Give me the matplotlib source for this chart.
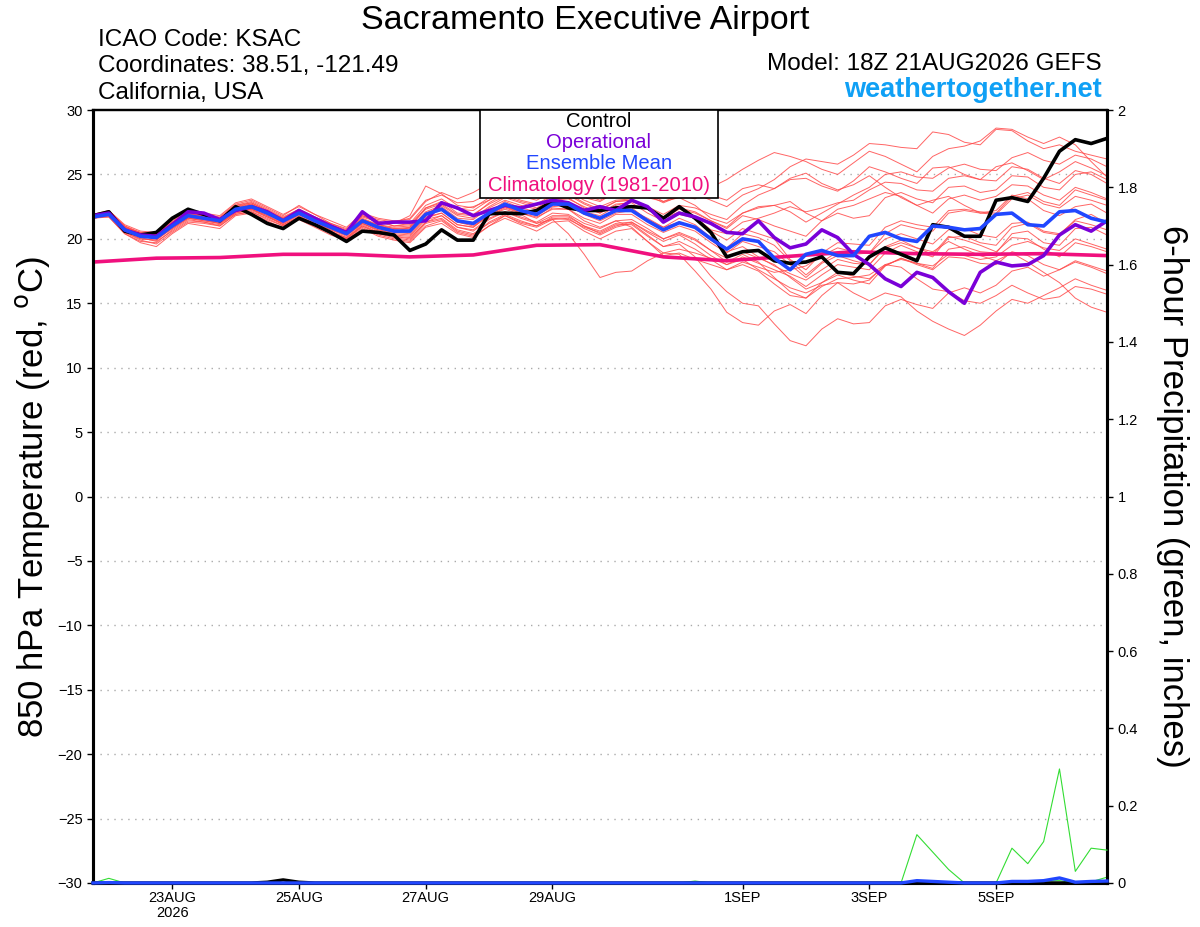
import matplotlib
matplotlib.use("Agg")
import matplotlib.pyplot as plt
from matplotlib.patches import Rectangle
import numpy as np

plt.rcParams['font.family'] = ['Liberation Sans', 'DejaVu Sans']

# ---------------- data ----------------
hours = list(range(0, 385, 6))   # 18Z 21AUG2026 + hours

tick_hours = [30, 78, 126, 174, 246, 294, 342]
tick_labels = ['23AUG\n2026', '25AUG', '27AUG', '29AUG', '1SEP', '3SEP', '5SEP']

control = [21.8, 22.1, 20.6, 20.3, 20.5, 21.6, 22.3, 21.9, 21.4, 22.5, 21.9, 21.2, 20.8,
           21.6, 21.1, 20.5, 19.8, 20.6, 20.5, 20.3, 19.1, 19.6, 20.7, 19.9, 19.9,
           21.95, 22.0, 21.95, 22.2, 22.9, 22.4, 22.2, 22.2, 22.4, 22.5, 22.4, 21.6, 22.5,
           21.6, 20.5, 18.6, 19.0, 19.1, 18.3, 18.1, 18.2, 18.6, 17.4, 17.3, 18.6, 19.3,
           18.8, 18.3, 21.1, 20.9, 20.2, 20.2, 23.0, 23.2, 22.9, 24.7, 26.8, 27.7, 27.4, 27.8]

operational = [21.8, 22.0, 20.7, 20.3, 20.2, 21.1, 22.1, 22.0, 21.5, 22.2, 22.5, 22.1, 21.4,
               22.2, 21.6, 21.0, 20.5, 22.1, 21.2, 21.3, 21.3, 21.4, 22.8, 22.4, 21.8,
               22.2, 22.6, 22.4, 22.7, 23.0, 22.8, 22.2, 22.5, 22.2, 23.0, 22.5, 21.3, 22.0,
               21.7, 21.2, 20.5, 20.4, 21.4, 20.1, 19.3, 19.6, 20.7, 20.1, 18.8, 18.0, 16.9,
               16.3, 17.4, 17.0, 15.9, 15.0, 17.4, 18.2, 17.9, 18.0, 18.7, 20.3, 21.1, 20.6, 21.4]

ens_mean = [21.7, 21.9, 20.7, 20.2, 20.1, 21.0, 21.8, 21.6, 21.4, 22.3, 22.5, 22.0, 21.4,
            22.0, 21.4, 20.9, 20.4, 21.4, 20.9, 20.6, 20.6, 21.9, 22.3, 21.4, 21.2,
            22.0, 22.7, 22.2, 21.9, 22.7, 22.7, 22.0, 21.6, 22.2, 22.2, 21.4, 20.7, 21.25,
            20.9, 20.0, 19.2, 20.0, 19.8, 18.5, 17.6, 18.8, 19.1, 18.7, 18.7, 20.2, 20.5,
            20.0, 19.8, 21.0, 20.9, 20.7, 20.8, 21.9, 22.0, 21.1, 21.0, 22.1, 22.2, 21.6, 21.3]

clim_hours = [0, 24, 48, 72, 96, 120, 144, 168, 192, 216, 240, 264, 288, 312, 336, 360, 384]
climatology = [18.2, 18.5, 18.55, 18.8, 18.8, 18.6, 18.75, 19.5, 19.55, 18.6, 18.3,
               18.65, 19.0, 18.85, 18.8, 18.85, 18.7]

m01 = [21.8,22.2,21.0,20.4,20.3,21.3,22.2,21.9,21.7,22.7,23.0,22.4,21.8,22.6,21.9,21.2,20.7,21.9,21.5,21.3,21.6,23.0,23.4,22.8,22.9,
       23.5,24.2,23.8,23.6,24.0,24.3,23.9,23.5,23.9,24.1,23.6,23.2,23.8,23.5,23.0,22.5,
       23.4,23.9,24.6,25.6,26.2,26.0,25.8,26.5,27.4,27.3,27.1,27.0,28.3,28.1,27.5,27.3,28.5,28.4,27.6,27.0,27.3,26.8,26.5,26.2]
m02 = [21.6,21.8,20.5,20.0,19.9,20.9,21.6,21.5,21.2,22.0,22.3,21.8,21.2,21.9,21.3,20.7,20.3,21.2,20.7,20.5,20.9,22.4,22.8,22.3,22.5,
       23.0,23.6,23.2,23.4,24.0,23.8,23.2,22.9,23.6,23.9,23.2,22.9,23.4,23.1,24.0,24.6,
       25.4,26.1,26.7,26.4,26.0,25.4,25.0,25.9,26.8,26.4,25.8,25.2,26.4,27.0,27.2,27.6,28.6,28.5,27.9,27.4,27.9,27.3,26.0,24.8]
m03 = [21.7,21.7,20.4,19.7,19.4,20.4,21.2,21.0,20.8,21.8,22.0,21.4,20.8,21.5,20.9,20.3,19.9,20.8,20.2,19.9,19.7,20.9,21.2,20.4,20.1,
       21.0,21.8,21.2,20.9,21.5,21.6,20.8,20.3,20.9,21.2,20.3,19.4,19.6,18.6,17.1,15.9,
       15.0,14.8,13.4,12.1,11.7,13.0,13.8,13.4,13.5,14.8,15.3,14.9,14.6,15.8,16.2,15.8,16.4,17.5,17.8,17.1,17.6,18.2,17.8,17.3]
m04 = [21.7,21.9,20.8,20.3,20.0,20.8,21.6,21.4,21.2,22.1,22.3,21.8,21.1,21.7,21.1,20.6,20.0,21.0,20.5,20.2,20.0,21.3,21.8,20.9,20.7,
       21.6,22.1,21.7,21.3,22.0,21.9,21.2,20.8,21.4,21.5,20.8,20.0,20.4,19.9,19.1,18.2,
       18.8,18.2,17.0,15.9,15.4,16.6,17.2,16.8,16.5,17.9,18.5,18.1,17.7,19.2,19.4,19.0,18.9,20.4,20.6,19.7,19.5,20.8,20.9,20.3]
m05 = [21.9,22.1,20.9,20.5,20.4,21.3,22.0,21.8,21.6,22.6,22.9,22.3,21.7,22.3,21.7,21.2,20.8,21.8,21.4,21.0,21.1,22.4,22.9,22.0,21.9,
       22.7,23.3,22.9,22.6,23.3,23.4,22.7,22.2,22.9,23.0,22.3,21.7,22.4,22.1,21.4,20.8,
       21.8,21.5,21.0,20.6,20.2,21.4,22.0,21.6,21.8,23.2,23.6,23.1,22.8,24.0,24.1,23.6,23.8,24.9,24.8,24.0,23.8,25.0,25.2,24.6]
m06 = [21.6,21.8,20.6,20.1,19.8,20.6,21.4,21.3,21.0,21.9,22.1,21.6,21.0,21.6,21.0,20.5,20.1,21.0,20.4,20.1,19.9,21.2,21.5,20.6,20.3,
       21.3,21.9,21.4,21.0,21.7,21.7,21.0,20.4,21.0,21.3,20.5,19.8,20.3,19.6,18.7,18.0,
       18.4,17.6,16.9,16.2,15.8,16.4,16.6,15.8,15.2,15.8,15.5,14.4,13.6,13.0,12.5,13.3,14.4,15.3,15.0,15.6,16.2,16.9,16.4,16.0]
m07 = [21.8,22.0,20.9,20.4,20.3,21.1,21.9,21.7,21.5,22.4,22.6,22.1,21.5,22.1,21.5,21.0,20.5,21.5,21.0,20.8,20.9,22.0,22.4,21.3,21.0,
       21.8,22.3,21.9,21.2,21.5,20.4,18.8,17.0,17.4,17.5,18.3,18.9,19.2,18.9,18.5,18.0,
       18.6,18.1,17.6,17.1,16.3,17.2,18.0,17.8,17.6,18.9,19.5,19.0,18.6,20.1,20.2,19.7,19.5,20.9,21.2,20.5,20.3,21.5,21.9,21.2]
m08 = [21.8,22.0,20.8,20.3,20.1,21.1,21.9,21.8,21.6,22.5,22.8,22.2,21.6,22.2,21.6,21.1,20.6,21.8,21.3,21.2,21.8,24.1,23.5,22.6,22.4,
       23.2,24.0,23.6,23.2,23.8,24.0,23.4,23.0,23.6,23.8,23.4,22.8,23.3,23.6,23.4,23.0,
       23.9,24.2,23.9,24.6,24.7,24.1,23.7,24.5,25.6,25.2,24.7,24.3,25.5,25.6,25.0,24.6,25.6,25.9,25.3,24.6,25.2,26.0,25.5,24.9]
m09 = [21.7,21.9,20.6,20.1,20.1,21.0,21.7,21.5,21.3,22.2,22.4,21.9,21.3,21.9,21.3,20.8,20.3,21.2,20.7,20.4,20.3,21.6,22.0,21.1,20.9,
       21.8,22.4,22.0,21.6,22.4,22.3,21.6,21.2,21.9,21.9,21.1,20.5,21.0,20.6,19.7,18.9,
       19.8,19.4,19.0,18.0,17.0,18.1,18.7,18.3,18.0,19.4,19.9,19.3,18.8,20.2,19.9,19.5,19.0,20.1,20.0,19.2,18.6,19.7,19.4,19.0]
m10 = [21.6,21.8,20.7,20.2,20.0,20.9,21.7,21.5,21.3,22.2,22.4,21.9,21.3,21.9,21.3,20.8,20.3,21.3,20.8,20.5,20.4,21.7,22.0,21.1,20.9,
       21.9,22.5,22.1,21.8,22.5,22.6,21.9,21.4,22.0,22.2,21.6,20.9,21.3,20.8,19.9,19.0,
       19.4,18.6,17.9,17.3,16.8,17.6,18.4,18.1,18.0,19.3,19.7,19.3,19.0,19.8,19.2,18.7,18.3,18.9,18.2,17.4,16.6,15.4,14.7,14.3]
m11 = [21.8,22.1,20.9,20.4,20.2,21.2,22.0,21.7,21.5,22.5,22.7,22.1,21.6,22.2,21.5,21.0,20.5,21.5,21.1,20.8,20.8,22.1,22.6,21.8,21.6,
       22.5,23.2,22.8,22.4,23.1,23.2,22.4,22.0,22.7,22.8,22.0,21.4,21.9,21.6,20.6,19.9,
       20.8,20.4,20.0,18.4,17.6,18.9,19.7,19.6,19.5,20.9,21.4,21.1,20.9,22.2,22.3,22.1,22.0,23.3,23.6,22.9,22.6,23.8,23.4,23.0]
m12 = [21.7,22.0,20.8,20.3,20.2,21.1,21.8,21.6,21.4,22.3,22.5,22.1,21.5,22.1,21.5,21.0,20.5,21.5,21.0,20.7,20.7,22.0,22.5,21.6,21.5,
       22.4,23.0,22.6,22.3,23.0,23.1,22.5,22.0,22.6,22.9,22.5,21.9,22.6,22.4,21.9,21.5,
       22.6,23.4,23.9,24.7,25.1,24.3,23.8,24.2,24.9,24.0,23.2,22.6,23.0,23.3,22.6,22.0,22.2,23.4,23.1,22.2,21.8,22.5,22.7,22.0]
m13 = [21.7,21.8,20.5,19.9,19.6,20.5,21.3,21.2,21.0,21.9,22.1,21.5,21.0,21.6,21.0,20.5,20.0,20.9,20.3,20.0,19.8,21.0,21.4,20.5,20.2,
       21.0,21.6,21.1,20.6,21.3,21.4,20.6,20.0,20.6,20.8,19.8,18.9,18.8,17.5,16.1,14.3,
       13.5,13.3,14.4,14.9,14.2,15.6,16.6,16.5,16.8,18.0,18.4,18.1,17.9,18.8,18.7,18.4,18.6,19.5,19.8,19.3,19.1,20.0,19.6,19.2]
m14 = [21.9,22.1,21.0,20.5,20.3,21.2,22.0,21.8,21.6,22.6,22.8,22.2,21.6,22.3,21.7,21.1,20.6,21.7,21.3,21.0,21.2,22.6,23.1,22.3,22.2,
       23.0,23.7,23.3,23.0,23.6,23.7,23.0,22.5,23.0,23.1,22.4,21.6,22.1,21.7,20.7,20.4,
       21.3,21.6,22.0,22.5,22.1,22.4,22.8,23.0,23.8,24.4,24.3,23.8,23.7,24.7,24.9,24.6,24.5,25.6,25.4,24.7,24.3,25.3,25.0,24.3]
m15 = [21.6,21.7,20.4,19.8,19.7,20.7,21.5,21.3,21.1,22.0,22.2,21.7,21.1,21.7,21.1,20.6,20.1,21.1,20.5,20.2,20.1,21.3,21.6,20.7,20.4,
       21.2,21.8,21.3,21.0,21.6,21.5,20.9,20.5,21.1,21.1,20.2,19.4,19.8,19.2,18.4,17.6,
       18.0,17.5,16.5,15.6,15.4,16.3,16.9,17.0,17.2,18.0,17.8,16.9,16.1,15.9,15.2,15.0,15.6,16.4,15.8,15.3,15.5,16.3,16.1,15.7]
m16 = [21.8,22.0,20.7,20.2,20.1,21.0,21.8,21.6,21.4,22.3,22.6,22.0,21.4,22.0,21.4,20.9,20.4,21.4,20.9,20.6,20.6,21.9,22.3,21.4,21.2,
       22.1,22.9,22.4,22.1,22.9,22.9,22.1,21.8,22.5,22.4,21.5,20.9,21.6,21.1,20.1,19.3,
       20.4,20.1,19.5,18.3,17.2,18.2,19.0,18.8,18.9,20.4,21.1,20.8,20.6,22.0,22.2,22.0,21.9,23.1,23.4,22.7,22.4,23.3,23.0,22.6]
m17 = [21.9,22.2,21.1,20.6,20.5,21.4,22.2,22.0,21.8,22.8,23.1,22.5,21.9,22.5,21.9,21.4,20.9,22.0,21.6,21.4,21.5,22.9,23.6,23.1,23.6,
       24.3,24.9,24.5,24.1,24.6,24.8,24.2,23.8,24.2,24.4,23.6,22.9,23.2,22.6,21.6,21.2,
       22.0,22.4,22.6,22.9,22.0,21.4,22.3,22.6,23.1,23.6,23.3,22.6,22.0,23.1,23.4,23.0,23.3,24.2,24.1,23.4,23.0,24.0,23.6,23.1]
m18 = [21.7,21.8,20.6,20.0,19.9,20.8,21.6,21.4,21.2,22.1,22.3,21.7,21.2,21.8,21.2,20.7,20.2,21.2,20.6,20.3,20.2,21.5,21.8,20.9,20.6,
       21.5,22.1,21.6,21.2,21.8,21.8,21.0,20.6,21.2,21.3,20.6,20.0,20.5,20.0,19.1,18.5,
       19.0,18.5,18.0,17.0,16.1,16.6,17.4,17.1,16.9,17.9,18.5,18.0,17.6,18.6,18.5,18.1,18.0,19.0,18.7,18.0,17.6,18.3,17.9,17.5]
m19 = [21.8,21.9,20.7,20.2,20.2,21.1,21.9,21.6,21.5,22.4,22.6,22.1,21.5,22.1,21.5,21.0,20.5,21.5,21.0,20.7,20.6,21.9,22.2,21.3,21.1,
       21.9,22.5,22.0,21.7,22.3,22.3,21.4,20.9,21.4,20.9,19.8,18.7,18.9,18.4,18.0,17.6,
       18.2,17.8,17.4,17.6,17.9,18.7,19.3,19.0,18.9,20.0,20.4,20.0,19.6,20.7,20.8,20.3,20.1,21.2,21.3,20.6,20.4,21.4,21.1,20.7]
m20 = [21.7,21.9,20.8,20.3,20.2,21.1,21.9,21.7,21.5,22.4,22.7,22.1,21.5,22.2,21.6,21.1,20.6,21.6,21.1,20.9,21.0,22.3,22.7,21.9,21.8,
       22.8,23.5,23.0,22.7,23.4,23.5,22.8,22.3,22.9,23.0,22.3,21.6,22.3,22.0,21.4,20.9,
       22.0,22.5,22.6,22.1,21.3,22.0,22.7,23.4,24.0,25.0,25.2,24.8,24.7,25.5,25.8,25.4,25.3,26.3,26.7,26.1,25.8,26.5,26.2,25.6]
members = [m01, m02, m03, m04, m05, m06, m07, m08, m09, m10,
           m11, m12, m13, m14, m15, m16, m17, m18, m19, m20]

# 6-hour precipitation (inches)
precip_member_a = [0, 0.012, 0, 0, 0, 0, 0, 0, 0, 0, 0, 0, 0, 0, 0, 0, 0, 0, 0, 0, 0, 0, 0, 0, 0,
                   0, 0, 0, 0, 0, 0, 0, 0, 0, 0, 0, 0, 0, 0.005, 0, 0, 0, 0, 0, 0, 0, 0, 0, 0, 0, 0,
                   0, 0.125, 0.08, 0.035, 0, 0, 0, 0.09, 0.05, 0.107, 0.295, 0.03, 0.09, 0.085]
precip_member_b = [0, 0, 0, 0, 0, 0, 0, 0, 0, 0, 0, 0, 0, 0, 0, 0, 0, 0, 0, 0, 0, 0, 0, 0, 0,
                   0, 0, 0, 0, 0, 0, 0, 0, 0, 0, 0, 0, 0, 0, 0, 0, 0, 0, 0, 0, 0, 0, 0, 0, 0, 0,
                   0, 0, 0, 0, 0, 0, 0, 0.004, 0.004, 0.005, 0.006, 0.0, 0.003, 0.015]
precip_control = [0, 0, 0, 0, 0, 0, 0, 0, 0, 0, 0, 0.002, 0.008, 0.002, 0, 0, 0, 0, 0, 0, 0, 0, 0, 0, 0,
                  0, 0, 0, 0, 0, 0, 0, 0, 0, 0, 0, 0, 0, 0, 0, 0, 0, 0, 0, 0, 0, 0, 0, 0, 0, 0,
                  0, 0, 0, 0, 0, 0, 0, 0, 0, 0, 0, 0, 0, 0]
precip_mean = [0, 0.001, 0, 0, 0, 0, 0, 0, 0, 0, 0, 0, 0, 0, 0, 0, 0, 0, 0, 0, 0, 0, 0, 0, 0,
               0, 0, 0, 0, 0, 0, 0, 0, 0, 0, 0, 0, 0, 0, 0, 0, 0, 0, 0, 0, 0, 0, 0, 0, 0, 0,
               0, 0.006, 0.004, 0.002, 0, 0, 0, 0.004, 0.004, 0.006, 0.013, 0.002, 0.004, 0.005]

# ---------------- figure ----------------
fig = plt.figure(figsize=(12, 9.27), dpi=100)
ax = fig.add_axes([0.0775, 0.0475, 0.845, 0.8338])

for m in members:
    ax.plot(hours, m, color='#FF4A4A', lw=0.7, alpha=0.85, zorder=2)
ax.plot(clim_hours, climatology, color='#F0107E', lw=2.6, zorder=4, solid_capstyle='round')
ax.plot(hours, control, color='black', lw=2.6, zorder=5)
ax.plot(hours, operational, color='#7A00D8', lw=2.6, zorder=6)
ax.plot(hours, ens_mean, color='#2147FF', lw=2.6, zorder=7)

ax.set_xlim(0, 384)
ax.set_ylim(-30, 30)
ax.set_yticks(range(-30, 31, 5))
ax.tick_params(axis='y', labelsize=10.5, direction='out', length=4, width=1)
ax.set_xticks(tick_hours)
ax.set_xticklabels(tick_labels, fontsize=10.5, linespacing=1.05)
ax.tick_params(axis='x', direction='out', length=4, width=1, pad=2)
for yv in range(-25, 30, 5):
    ax.axhline(yv, color='#AAAAAA', lw=1.0, ls=(0, (1, 4)), zorder=1)

for side in ['left', 'right', 'bottom']:
    ax.spines[side].set_linewidth(2.2)
ax.spines['top'].set_linewidth(1.6)

ax2 = ax.twinx()
ax2.set_ylim(0, 2)
ax2.set_yticks(np.arange(0, 2.01, 0.2))
ax2.set_yticklabels(['0', '0.2', '0.4', '0.6', '0.8', '1', '1.2', '1.4', '1.6', '1.8', '2'])
ax2.tick_params(axis='y', labelsize=10.5, direction='out', length=4, width=1)
ax2.plot(hours, precip_member_b, color='#33DD33', lw=0.8, zorder=2, clip_on=False)
ax2.plot(hours, precip_member_a, color='#33DD33', lw=0.8, zorder=3, clip_on=False)
ax2.plot(hours, precip_control, color='black', lw=2.4, zorder=4, clip_on=False)
ax2.plot(hours, precip_mean, color='#2147FF', lw=2.4, zorder=5, clip_on=False)
for side in ['left', 'right', 'bottom']:
    ax2.spines[side].set_linewidth(2.2)
ax2.spines['top'].set_linewidth(1.6)

# legend box
ax2.add_patch(Rectangle((0.3817, 0.886), 0.2347, 0.114, transform=ax2.transAxes,
                        facecolor='white', edgecolor='black', lw=1.2, zorder=10))
leg_items = [('Control', 'black', 0.9858), ('Operational', '#7A00D8', 0.9586),
             ('Ensemble Mean', '#2147FF', 0.9314), ('Climatology (1981-2010)', '#F0107E', 0.903)]
for txt, col, yy in leg_items:
    ax2.text(0.499, yy, txt, color=col, fontsize=14.6, ha='center', va='center',
             transform=ax2.transAxes, zorder=11)

# titles and info text
fig.text(0.4875, 0.978, 'Sacramento Executive Airport', fontsize=24.5, ha='center', va='center')
fig.text(0.0817, 0.9569, 'ICAO Code: KSAC', fontsize=17.5, ha='left', va='center')
fig.text(0.0817, 0.9288, 'Coordinates: 38.51, -121.49', fontsize=17.5, ha='left', va='center')
fig.text(0.0817, 0.8997, 'California, USA', fontsize=17.5, ha='left', va='center')
fig.text(0.918, 0.931, 'Model: 18Z 21AUG2026 GEFS', fontsize=17.5, ha='right', va='center')
fig.text(0.918, 0.903, 'weathertogether.net', fontsize=19.5, ha='right', va='center',
         color='#0FA0F5', fontweight='bold')

fig.text(0.027, 0.4640, '850 hPa Temperature (red, $^{\\rm o}$C)', fontsize=25, rotation=90,
         ha='center', va='center')
fig.text(0.977, 0.4640, '6-hour Precipitation (green, inches)', fontsize=25, rotation=270,
         ha='center', va='center')

fig.savefig('out.png', dpi=100)
